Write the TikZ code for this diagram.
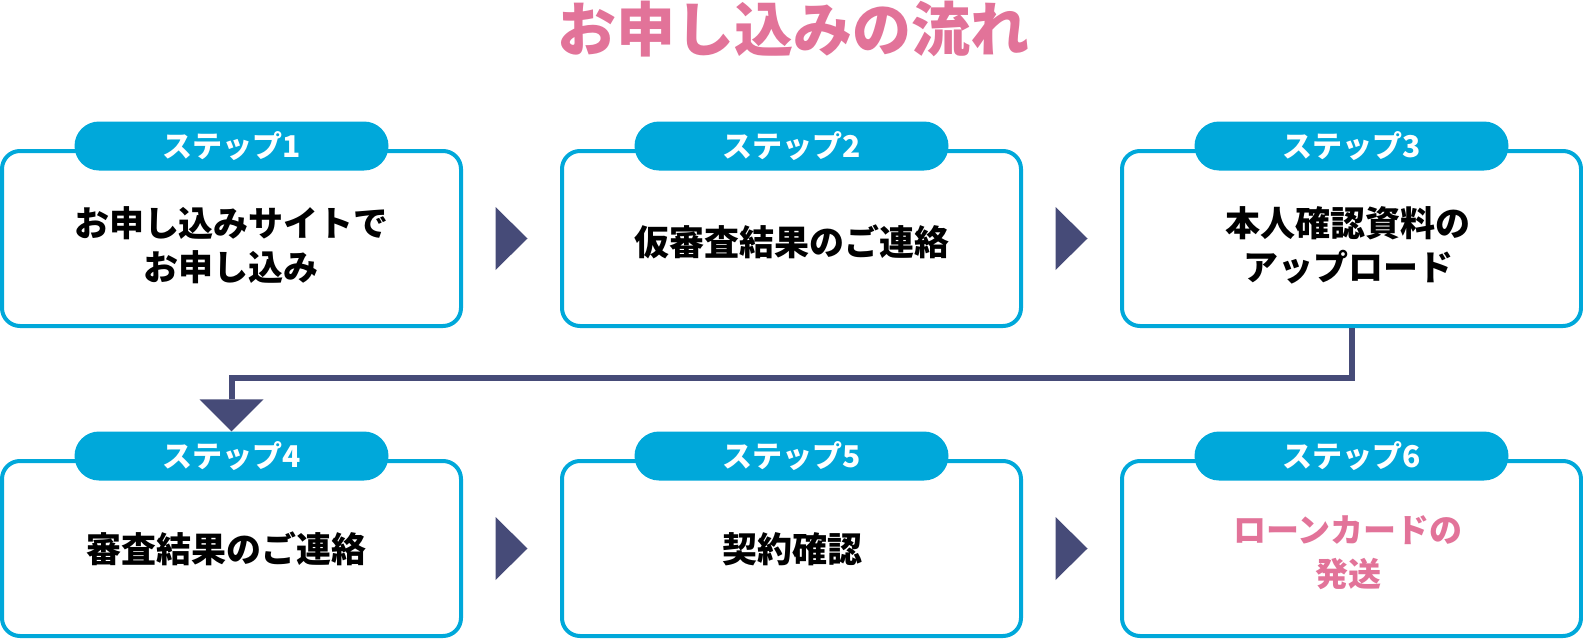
\documentclass[tikz,border=0pt]{standalone}
\usepackage{fontspec}
\setmainfont{Noto Sans CJK JP}
\usetikzlibrary{calc}
\definecolor{stepcyan}{HTML}{00A8DA}
\definecolor{arrownavy}{HTML}{464B78}
\definecolor{titlepink}{HTML}{E27399}
\tikzset{
  stepbox/.style={draw=stepcyan, line width=4pt, fill=white, rounded corners=18pt,
    minimum width=459pt, minimum height=175pt, inner sep=0pt},
  steptab/.style={fill=stepcyan, rounded corners=24.5pt, minimum width=314pt,
    minimum height=49pt, inner sep=0pt, text=white,
    font=\bfseries\fontsize{30}{32}\selectfont},
  bodytext/.style={align=center, inner sep=0pt, text=black,
    font=\bfseries\fontsize{35}{44}\selectfont},
  flow/.style={draw=arrownavy, line width=6pt},
  tri/.style={fill=arrownavy}
}
\begin{document}
\begin{tikzpicture}[x=1pt,y=-1pt]
\useasboundingbox (0,0) rectangle (1583,640);
% title
\node[inner sep=0pt, text=titlepink, font=\bfseries\fontsize{59}{62}\selectfont] (title) at (793,29) {お申し込みの流れ};
% boxes row 1
\node[stepbox] (b1) at (231.5,238.5) {};
\node[stepbox] (b2) at (791.5,238.5) {};
\node[stepbox] (b3) at (1351.5,238.5) {};
% boxes row 2
\node[stepbox] (b4) at (231.5,548.5) {};
\node[stepbox] (b5) at (791.5,548.5) {};
\node[stepbox] (b6) at (1351.5,548.5) {};
% tabs
\node[steptab] (t1) at (231.5,146) {ステップ1};
\node[steptab] (t2) at (791.5,146) {ステップ2};
\node[steptab] (t3) at (1351.5,146) {ステップ3};
\node[steptab] (t4) at (231.5,456) {ステップ4};
\node[steptab] (t5) at (791.5,456) {ステップ5};
\node[steptab] (t6) at (1351.5,456) {ステップ6};
% texts
\node[bodytext] (x1) at (231.5,245) {お申し込みサイトで\\お申し込み};
\node[bodytext] (x2) at (792,242) {仮審査結果のご連絡};
\node[bodytext] (x3) at (1348,245) {本人確認資料の\\アップロード};
\node[bodytext] (x4) at (226,549) {審査結果のご連絡};
\node[bodytext] (x5) at (792,549) {契約確認};
\node[bodytext, text=titlepink, font=\bfseries\fontsize{33}{44}\selectfont] (x6) at (1348,553) {ローンカードの\\発送};
% horizontal arrows
\foreach \a/\b in {b1/b2,b2/b3,b4/b5,b5/b6}{
  \coordinate (m) at ($(\a.east)!0.5!(\b.west)$);
  \fill[tri] ($(m)+(-16,-31.5)$) -- ($(m)+(16,0)$) -- ($(m)+(-16,31.5)$) -- cycle;
}
% connector from step 3 to step 4
\coordinate (tp) at ($(t4.north)+(0,-32)$);
\draw[flow] (b3.south) -- ++(0,50) -| (tp);
\fill[tri] ($(tp)+(-32,0)$) -- (t4.north) -- ($(tp)+(32,0)$) -- cycle;
\end{tikzpicture}
\end{document}
